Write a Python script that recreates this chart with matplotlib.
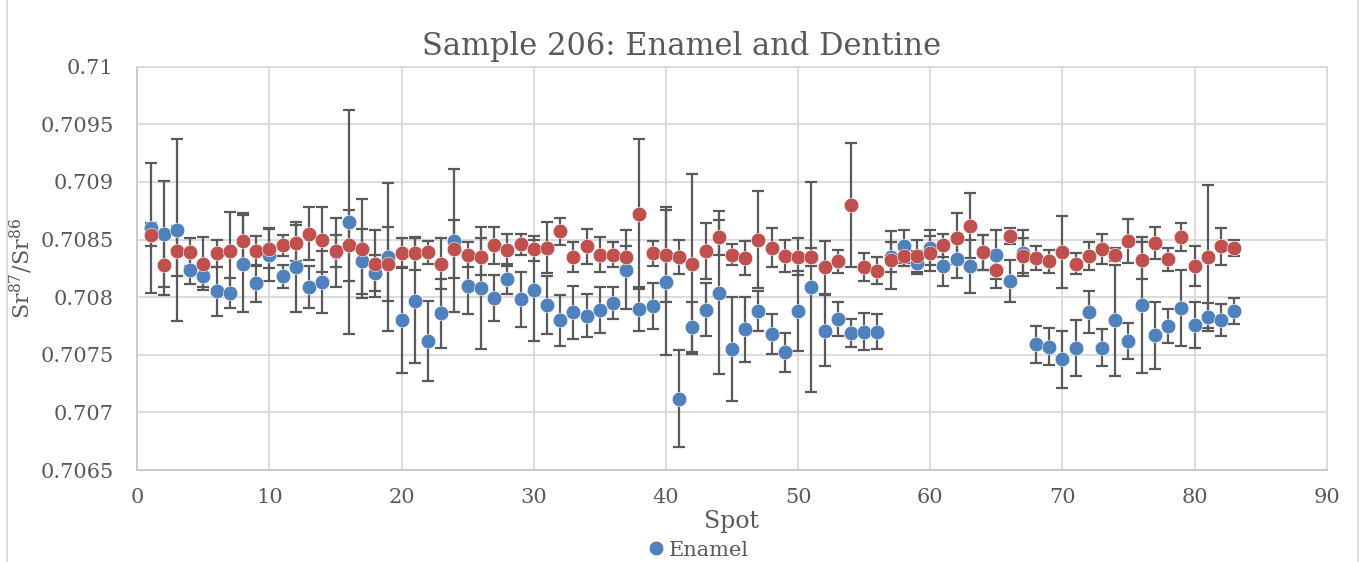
import matplotlib
matplotlib.use('Agg')
import matplotlib.pyplot as plt
from matplotlib.ticker import FuncFormatter, MultipleLocator
from matplotlib.lines import Line2D

plt.rcParams['font.family'] = ['DejaVu Serif']
plt.rcParams['mathtext.fontset'] = 'dejavuserif'

spots = list(range(1, 84))

# Enamel (blue) Sr87/Sr86 and error
enamel = [0.70860, 0.70855, 0.70858, 0.70824, 0.70818, 0.70805, 0.70804, 0.70829, 0.70812, 0.70837,
          0.70818, 0.70826, 0.70809, 0.70813, 0.70839, 0.70865, 0.70831, 0.70821, 0.70835, 0.70780,
          0.70797, 0.70762, 0.70786, 0.70849, 0.70810, 0.70808, 0.70799, 0.70816, 0.70798, 0.70806,
          0.70793, 0.70780, 0.70787, 0.70784, 0.70789, 0.70795, 0.70824, 0.70790, 0.70792, 0.70813,
          0.70712, 0.70774, 0.70789, 0.70804, 0.70755, 0.70772, 0.70788, 0.70768, 0.70752, 0.70788,
          0.70809, 0.70771, 0.70781, 0.70769, 0.70770, 0.70770, 0.70835, 0.70844, 0.70830, 0.70843,
          0.70827, 0.70833, 0.70827, 0.70839, 0.70837, 0.70814, 0.70838, 0.70759, 0.70757, 0.70746,
          0.70756, 0.70787, 0.70756, 0.70780, 0.70762, 0.70793, 0.70767, 0.70775, 0.70791, 0.70776,
          0.70783, 0.70780, 0.70788]
enamel_err = [0.00056, 0.00046, 0.00079, 0.00013, 0.00009, 0.00021, 0.00013, 0.00042, 0.00016, 0.00023,
              0.00010, 0.00039, 0.00018, 0.00027, 0.00030, 0.00097, 0.00028, 0.00016, 0.00064, 0.00046,
              0.00054, 0.00035, 0.00030, 0.00062, 0.00025, 0.00053, 0.00020, 0.00013, 0.00024, 0.00044,
              0.00025, 0.00022, 0.00023, 0.00019, 0.00020, 0.00014, 0.00034, 0.00019, 0.00020, 0.00063,
              0.00042, 0.00022, 0.00023, 0.00071, 0.00045, 0.00028, 0.00017, 0.00017, 0.00017, 0.00035,
              0.00091, 0.00031, 0.00015, 0.00012, 0.00016, 0.00015, 0.00013, 0.00014, 0.00010, 0.00015,
              0.00017, 0.00016, 0.00023, 0.00015, 0.00021, 0.00018, 0.00020, 0.00016, 0.00016, 0.00025,
              0.00024, 0.00018, 0.00016, 0.00048, 0.00016, 0.00059, 0.00029, 0.00015, 0.00033, 0.00020,
              0.00012, 0.00014, 0.00011]

# Dentine (red)
dentine = [0.70854, 0.70828, 0.70840, 0.70839, 0.70829, 0.70838, 0.70840, 0.70849, 0.70840, 0.70842,
           0.70845, 0.70847, 0.70855, 0.70850, 0.70840, 0.70845, 0.70842, 0.70829, 0.70829, 0.70838,
           0.70838, 0.70839, 0.70829, 0.70842, 0.70837, 0.70835, 0.70845, 0.70841, 0.70846, 0.70842,
           0.70843, 0.70857, 0.70835, 0.70844, 0.70837, 0.70837, 0.70835, 0.70872, 0.70838, 0.70837,
           0.70835, 0.70829, 0.70840, 0.70852, 0.70837, 0.70834, 0.70850, 0.70843, 0.70836, 0.70835,
           0.70835, 0.70826, 0.70831, 0.70880, 0.70826, 0.70823, 0.70832, 0.70836, 0.70836, 0.70838,
           0.70845, 0.70851, 0.70862, 0.70839, 0.70824, 0.70853, 0.70836, 0.70834, 0.70831, 0.70839,
           0.70829, 0.70836, 0.70842, 0.70837, 0.70849, 0.70832, 0.70847, 0.70833, 0.70852, 0.70827,
           0.70835, 0.70844, 0.70843]
dentine_err = [0.00010, 0.00026, 0.00022, 0.00012, 0.00023, 0.00012, 0.00034, 0.00024, 0.00013, 0.00017,
               0.00009, 0.00016, 0.00023, 0.00028, 0.00014, 0.00031, 0.00043, 0.00029, 0.00032, 0.00013,
               0.00014, 0.00010, 0.00022, 0.00025, 0.00011, 0.00016, 0.00016, 0.00014, 0.00009, 0.00011,
               0.00022, 0.00012, 0.00013, 0.00015, 0.00015, 0.00011, 0.00009, 0.00065, 0.00011, 0.00041,
               0.00015, 0.00078, 0.00024, 0.00015, 0.00009, 0.00015, 0.00042, 0.00017, 0.00014, 0.00016,
               0.00008, 0.00023, 0.00010, 0.00054, 0.00012, 0.00012, 0.00025, 0.00009, 0.00014, 0.00015,
               0.00010, 0.00022, 0.00028, 0.00015, 0.00016, 0.00007, 0.00015, 0.00010, 0.00010, 0.00031,
               0.00009, 0.00012, 0.00013, 0.00006, 0.00019, 0.00016, 0.00014, 0.00010, 0.00012, 0.00017,
               0.00062, 0.00016, 0.00007]

blue = '#4F81BD'
red = '#C0504D'
grey = '#595959'

fig = plt.figure(figsize=(13.64, 5.62), dpi=100)
ax = fig.add_axes([137.3/1364, 1-470/562, (1326.7-137.3)/1364, (470-66.7)/562])

# error bars first, markers on top (red over blue)
ax.errorbar(spots, enamel, yerr=enamel_err, fmt='none', ecolor=grey, elinewidth=1.6, capsize=4, capthick=1.6, zorder=2)
ax.errorbar(spots, dentine, yerr=dentine_err, fmt='none', ecolor=grey, elinewidth=1.6, capsize=4, capthick=1.6, zorder=2)
ax.plot(spots, enamel, 'o', color=blue, markersize=10.5, markeredgecolor='white', markeredgewidth=0.4, zorder=3, label='Enamel')
ax.plot(spots, dentine, 'o', color=red, markersize=10.5, markeredgecolor='white', markeredgewidth=0.4, zorder=4)

ax.set_xlim(0, 90)
ax.set_ylim(0.7065, 0.71)
ax.xaxis.set_major_locator(MultipleLocator(10))
ax.yaxis.set_major_locator(MultipleLocator(0.0005))
ax.yaxis.set_major_formatter(FuncFormatter(lambda v, p: '%g' % round(v, 4)))
ax.grid(True, color='#D9D9D9', linewidth=1.3, zorder=0)
ax.set_axisbelow(True)
for s in ax.spines.values():
    s.set_color('#D9D9D9')
    s.set_linewidth(1.3)
ax.spines['left'].set_color('#C8C8C8')
ax.spines['bottom'].set_color('#C8C8C8')
ax.tick_params(axis='both', length=0, labelsize=15, labelcolor=grey)
ax.tick_params(axis='y', pad=17)
ax.tick_params(axis='x', pad=13)

ax.set_xlabel('Spot', fontsize=17, color=grey, labelpad=2)
ax.set_ylabel(r'Sr$^{87}$/Sr$^{86}$', fontsize=16, color=grey, labelpad=4)

fig.text(0.5, 1-47/562, 'Sample 206: Enamel and Dentine', ha='center', va='center', fontsize=22, color=grey)

leg = fig.legend(loc='center', bbox_to_anchor=(697/1364, 1-550/562), frameon=False, fontsize=15,
                 handletextpad=0.1, handlelength=1.0, labelcolor=grey)

# outer chart border
fig.add_artist(Line2D([7/1364, 7/1364], [0, 1], color='#D9D9D9', linewidth=1.3))
fig.add_artist(Line2D([1358/1364, 1358/1364], [0, 1], color='#D9D9D9', linewidth=1.3))

fig.savefig('out.png', dpi=100)
